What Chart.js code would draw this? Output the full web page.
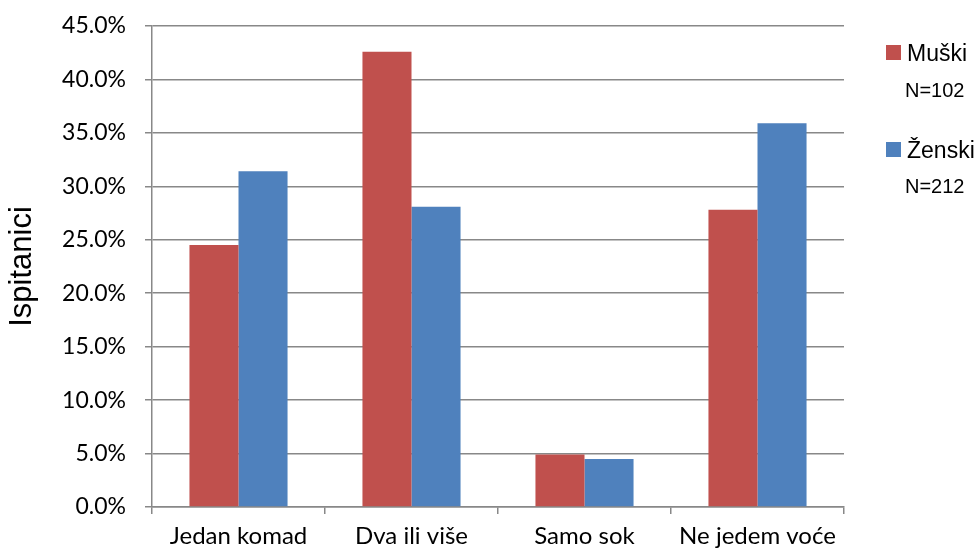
<!DOCTYPE html>
<html>
<head>
<meta charset="utf-8">
<script src="https://cdn.jsdelivr.net/npm/chart.js@4/dist/chart.umd.min.js"></script>
<style>
html,body{margin:0;padding:0;background:#fff;}
#wrap{position:relative;width:979px;height:554px;}
</style>
</head>
<body>
<div id="wrap"><canvas id="c" width="979" height="554"></canvas></div>
<script>
const categories = ["Jedan komad", "Dva ili više", "Samo sok", "Ne jedem voće"];
const seriesNames = ["Muški", "Ženski"];
const seriesN = ["N=102", "N=212"];
const muski = [24.5, 42.6, 4.9, 27.8];
const zenski = [31.4, 28.1, 4.5, 35.9];
const seriesColors = ["#C0504D", "#4F81BD"];
const yTitle = "Ispitanici";

const legendPlugin = {
  id: 'sideLegend',
  afterDraw(chart) {
    const ctx = chart.ctx;
    const rows = [{sq: 45, txt: 61, n: 97}, {sq: 142, txt: 158, n: 193}];
    ctx.save();
    chart.data.datasets.forEach((ds, i) => {
      const r = rows[i];
      ctx.fillStyle = ds.backgroundColor;
      ctx.fillRect(886, r.sq, 15, 15);
      ctx.fillStyle = '#000';
      ctx.textBaseline = 'alphabetic';
      ctx.textAlign = 'left';
      ctx.font = '23px "Liberation Sans", Arial, sans-serif';
      ctx.fillText(ds.label, 907, r.txt);
      ctx.font = '20px "Liberation Sans", Arial, sans-serif';
      ctx.fillText(seriesN[i], 905, r.n);
    });
    ctx.restore();
  }
};

new Chart(document.getElementById('c'), {
  type: 'bar',
  data: {
    labels: categories,
    datasets: [
      {label: seriesNames[0], data: muski, backgroundColor: seriesColors[0], categoryPercentage: 0.567, barPercentage: 1.0},
      {label: seriesNames[1], data: zenski, backgroundColor: seriesColors[1], categoryPercentage: 0.567, barPercentage: 1.0}
    ]
  },
  options: {
    responsive: false,
    devicePixelRatio: 1,
    animation: false,
    layout: {padding: {top: 26, right: 135, bottom: 0, left: 0}},
    plugins: {legend: {display: false}, tooltip: {enabled: false}},
    scales: {
      x: {
        afterFit(s) { s.height = 47; s.paddingLeft = 0; s.paddingRight = 0; },
        grid: {display: true, drawOnChartArea: false, drawTicks: true, tickLength: 7, color: '#888', lineWidth: 1.5, offset: true},
        border: {display: true, color: '#888', width: 1.5},
        ticks: {color: '#000', padding: 8, font: {family: 'Lato', size: 24}, maxRotation: 0}
      },
      y: {
        min: 0, max: 45,
        afterFit(s) { s.width = 152; s.paddingTop = 0; s.paddingBottom = 0; },
        grid: {color: '#888', lineWidth: 1.5, tickLength: 7, drawTicks: true},
        border: {display: true, color: '#888', width: 1.5},
        ticks: {stepSize: 5, color: '#000', padding: 19, font: {family: 'Lato', size: 23},
          callback: v => v.toFixed(1) + '%'},
        title: {display: true, text: yTitle, color: '#000', padding: {top: 4, bottom: 0},
          font: {family: '"Liberation Sans", Arial, sans-serif', size: 31, weight: 'normal'}}
      }
    }
  },
  plugins: [legendPlugin]
});
</script>
</body>
</html>
